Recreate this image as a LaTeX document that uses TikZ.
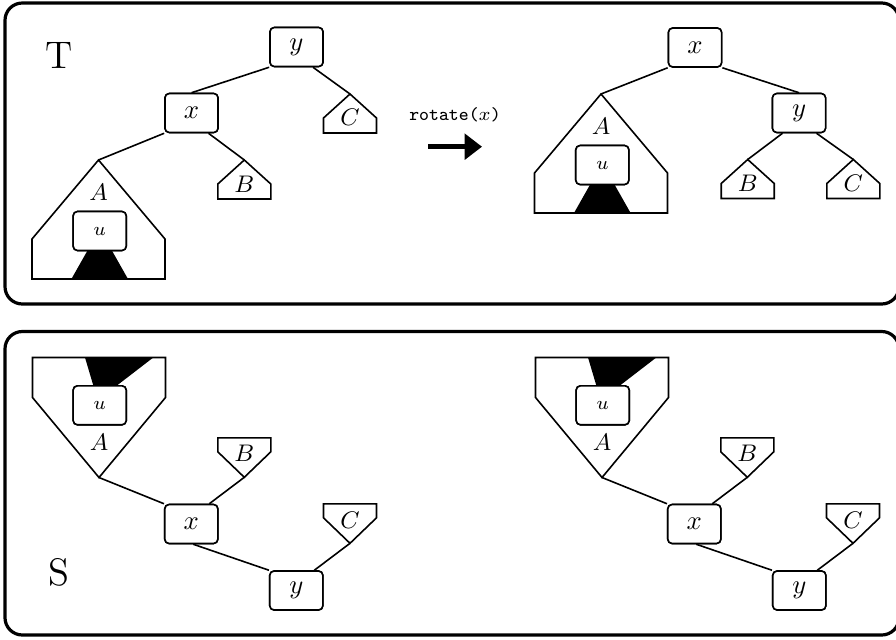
\documentclass[tikz,border=0pt]{standalone}
\usetikzlibrary{calc,arrows.meta}
\begin{document}
\begin{tikzpicture}[x=0.375pt,y=-0.375pt,
  tn/.style={draw,fill=white,rounded corners=1.6pt,minimum width=19.9pt,minimum height=14.6pt,inner sep=0pt,line width=0.6pt},
  un/.style={tn,font=\scriptsize},
  ln/.style={line width=0.6pt},
  frame/.style={line width=1.2pt,rounded corners=6.5pt},
  lab/.style={inner sep=0pt,font=\small},
  big/.style={inner sep=0pt,font=\Large}]
\useasboundingbox (0,0) rectangle (896,639);
% frames
\draw[frame] (5,3) rectangle (899,304);
\draw[frame] (5,331.5) rectangle (899,635);
\node[big] (T) at (59,55) {T};
\node[big] (S) at (58.5,572) {S};

% ---------------- top left tree ----------------
\node[tn] (yT) at (296.5,47) {$y$};
\node[tn] (xT) at (191.5,113) {$x$};
\coordinate (C1) at (350,94);
\coordinate (B1) at (244.3,160);
\coordinate (A1) at (98.5,160);
\draw[ln] (C1) -- ++(-26.5,24) -- ++(0,15) -- ++(53,0) -- ++(0,-15) -- cycle;
\node[lab] (C1l) at ($(C1)+(0,23.5)$) {$C$};
\draw[ln] (B1) -- ++(-26.5,24) -- ++(0,15) -- ++(53,0) -- ++(0,-15) -- cycle;
\node[lab] (B1l) at ($(B1)+(0,24)$) {$B$};
\node[un] (A1u) at (99.7,231) {};
\fill ($(A1u.center)+(0,-2)$) -- ($(A1u.center)+(-28.3,48)$) -- ($(A1u.center)+(28.3,48)$) -- cycle;
\draw[ln] (A1) -- ++(-66.5,79) -- ++(0,40) -- ++(133,0) -- ++(0,-40) -- cycle;
\node[lab] (A1l) at ($(A1)+(0,32.5)$) {$A$};
\node[un] at (A1u) {$u$};
\draw[ln] (yT.south west) -- (xT.north);
\draw[ln] ($(yT.south)+(16.5,0)$) -- (C1);
\draw[ln] (xT.south west) -- (A1);
\draw[ln] ($(xT.south)+(17,0)$) -- (B1);
\node[tn] at (yT) {$y$};
\node[tn] at (xT) {$x$};

% ---------------- rotate arrow ----------------
\node[inner sep=0pt,font=\scriptsize] (rot) at (455,115) {\texttt{rotate(}$x$\texttt{)}};
\coordinate (ar1) at (428,146.7);
\coordinate (ar2) at (482,146.7);
\draw[line width=2pt,-{Triangle[length=6.5pt,width=9.5pt]}] (ar1) -- (ar2);

% ---------------- top right tree ----------------
\node[tn] (xR) at (695,47.5) {$x$};
\node[tn] (yR) at (799,113) {$y$};
\coordinate (A2) at (601,94);
\coordinate (B2) at (747.7,159.5);
\coordinate (C2) at (853.3,159.5);
\draw[ln] (B2) -- ++(-26.5,24) -- ++(0,15) -- ++(53,0) -- ++(0,-15) -- cycle;
\node[lab] (B2l) at ($(B2)+(0,24)$) {$B$};
\draw[ln] (C2) -- ++(-26.5,24) -- ++(0,15) -- ++(53,0) -- ++(0,-15) -- cycle;
\node[lab] (C2l) at ($(C2)+(0,24)$) {$C$};
\node[un] (A2u) at (602.3,165) {};
\fill ($(A2u.center)+(0,-2)$) -- ($(A2u.center)+(-28.3,48)$) -- ($(A2u.center)+(28.3,48)$) -- cycle;
\draw[ln] (A2) -- ++(-66.5,79) -- ++(0,40) -- ++(133,0) -- ++(0,-40) -- cycle;
\node[lab] (A2l) at ($(A2)+(0,32)$) {$A$};
\node[un] at (A2u) {$u$};
\draw[ln] (xR.south west) -- (A2);
\draw[ln] (xR.south east) -- (yR.north);
\draw[ln] ($(yR.south)+(-16.5,0)$) -- (B2);
\draw[ln] ($(yR.south)+(17.5,0)$) -- (C2);
\node[tn] at (xR) {$x$};
\node[tn] at (yR) {$y$};

% ---------------- bottom trees ----------------
\foreach \p/\dx in {L/0,R/503}{
\begin{scope}[shift={(\dx,0)}]
\node[tn] (x\p) at (191.3,524) {$x$};
\node[tn] (y\p) at (296.3,590.5) {$y$};
\coordinate (A\p) at (99,477.5);
\coordinate (B\p) at (244.3,477.3);
\coordinate (C\p) at (350,543.3);
\draw[ln] (B\p) -- ++(-26.5,-25.5) -- ++(0,-14) -- ++(53,0) -- ++(0,14) -- cycle;
\node[lab] (B\p l) at ($(B\p)+(0,-24)$) {$B$};
\draw[ln] (C\p) -- ++(-26.5,-25.5) -- ++(0,-14) -- ++(53,0) -- ++(0,14) -- cycle;
\node[lab] (C\p l) at ($(C\p)+(0,-23.5)$) {$C$};
\node[un] (A\p u) at (99.7,405.3) {};
\fill ($(A\p u.center)+(-2,-5)$) -- ($(A\p u.center)+(-14.7,-47.8)$) -- ($(A\p u.center)+(53.6,-47.8)$) -- cycle;
\draw[ln] (A\p) -- ++(-66.5,-80) -- ++(0,-40) -- ++(133,0) -- ++(0,40) -- cycle;
\node[lab] (A\p l) at ($(A\p)+(0,-35)$) {$A$};
\node[un] at (A\p u) {$u$};
\draw[ln] (A\p) -- (x\p.north west);
\draw[ln] (B\p) -- ($(x\p.north)+(18,0)$);
\draw[ln] ($(x\p.south)+(2,0)$) -- (y\p.north west);
\draw[ln] (C\p) -- ($(y\p.north)+(18,0)$);
\node[tn] at (x\p) {$x$};
\node[tn] at (y\p) {$y$};
\end{scope}}
\end{tikzpicture}
\end{document}
